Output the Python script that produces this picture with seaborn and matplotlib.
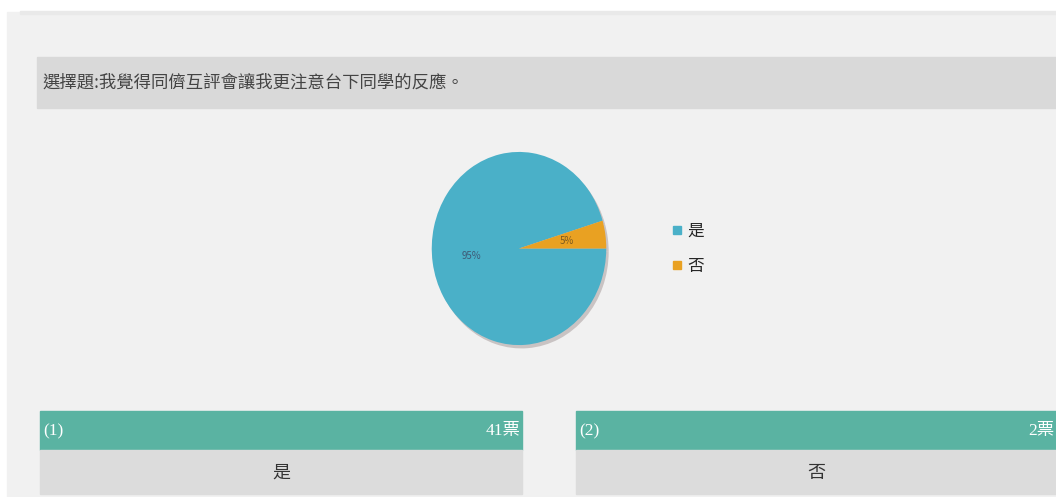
import matplotlib
matplotlib.use("Agg")
import matplotlib.pyplot as plt
import matplotlib.patches as mpatches
from matplotlib.lines import Line2D
import seaborn as sns

# data
question = "選擇題:我覺得同儕互評會讓我更注意台下同學的反應。"
options = ["是", "否"]
votes = [41, 2]
option_ids = ["(1)", "(2)"]

colors = ["#4ab0c8", "#e9a122"]

sns.set_theme(style="white")
plt.rcParams["font.family"] = ["Noto Sans CJK TC", "DejaVu Sans"]

W, H = 1056, 497
fig = plt.figure(figsize=(W / 100, H / 100), dpi=100)
fig.patch.set_facecolor("white")

# background axes in pixel coords
bg = fig.add_axes([0, 0, 1, 1])
bg.set_xlim(0, W)
bg.set_ylim(H, 0)
bg.axis("off")
bg.add_patch(mpatches.Rectangle((7, 12), W, H, color="#f1f1f1", zorder=0))
bg.add_patch(mpatches.Rectangle((20, 11), W, 3, color="#e9e9e9", zorder=1))
bg.add_patch(mpatches.Rectangle((37, 57), W, 51, color="#d9d9d9", zorder=1))
bg.text(42, 83, question, fontsize=12.5, color="#444444", va="center", ha="left")

# answer cards
card_x = [40, 576]
card_w = [482, 480]
for i, (oid, opt, v) in enumerate(zip(option_ids, options, votes)):
    x0, w = card_x[i], card_w[i]
    bg.add_patch(mpatches.Rectangle((x0, 411), w, 39, color="#5ab3a2", zorder=1))
    bg.add_patch(mpatches.Rectangle((x0, 450), w, 44, color="#dcdcdc", zorder=1))
    bg.text(x0 + 3, 431, oid, fontsize=12.5, color="white", va="center", ha="left",
            family=["Liberation Serif", "Noto Sans CJK TC"])
    bg.text(x0 + w - 2, 431, f"{v}票", fontsize=12.5, color="white", va="center",
            ha="right", family=["Liberation Serif", "Noto Sans CJK TC"])
    bg.text(x0 + w / 2, 473, opt, fontsize=13, color="#333333", va="center", ha="center")

# pie
pie_ax = fig.add_axes([430 / W, 1 - 347 / H, 178 / W, 197 / H])
pie_ax.set_facecolor("none")
wedges, texts, autotexts = pie_ax.pie(
    votes, colors=colors, startangle=0, counterclock=False,
    autopct="%.0f%%", pctdistance=0.55,
    shadow={"ox": 0.02, "oy": -0.025, "facecolor": "#b8b0b0",
            "edgecolor": "#c8c0c0", "alpha": 0.7},
    wedgeprops={"linewidth": 0},
    textprops={"fontsize": 7},
)
autotexts[0].set_color("#3e5a76")
autotexts[1].set_color("#7a5a20")
pie_ax.set_aspect("auto")
pie_ax.set_xlim(-1.02, 1.02)
pie_ax.set_ylim(-1.02, 1.02)
pie_ax.axis("off")

# legend
handles = [Line2D([0], [0], marker="s", linestyle="", markersize=6,
                  markerfacecolor=c, markeredgecolor=c) for c in colors]
fig.legend(handles, options, loc="upper left", bbox_to_anchor=(657 / W, 1 - 211 / H),
           frameon=False, fontsize=12, handletextpad=0.15, labelspacing=1.1,
           handlelength=1.0, borderpad=0.2)

fig.savefig("out.png", dpi=100)
